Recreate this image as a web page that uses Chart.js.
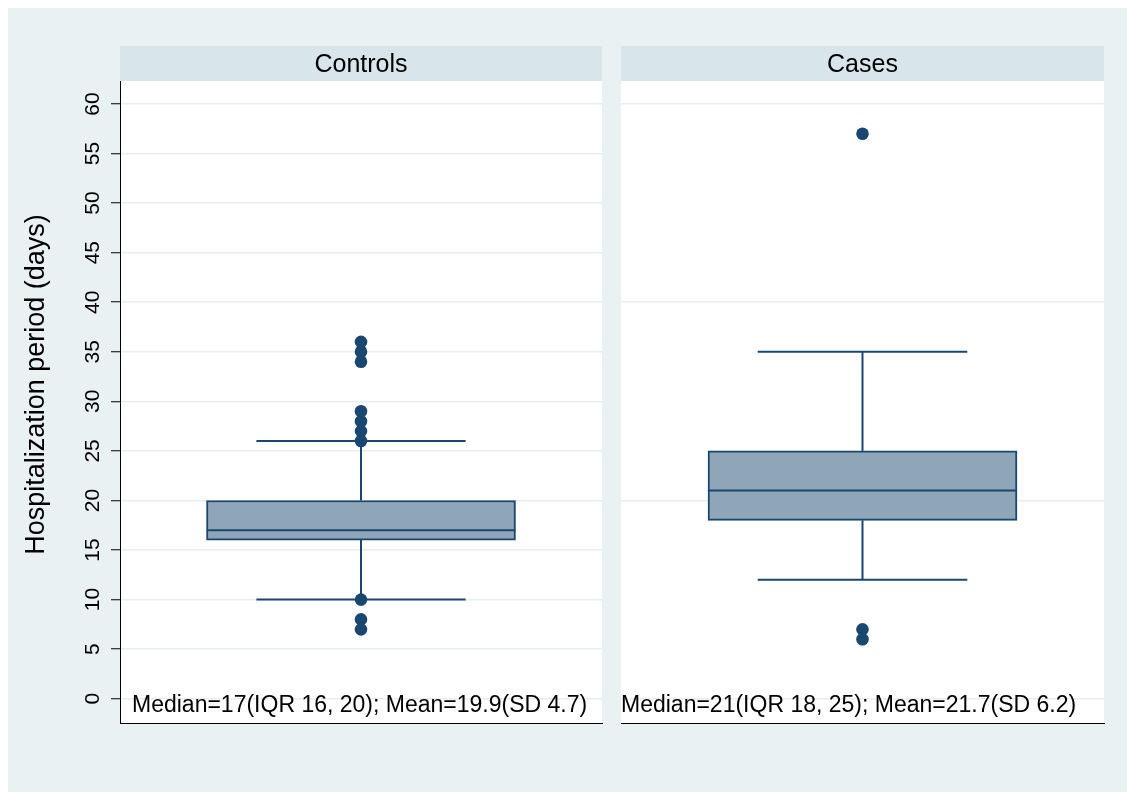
<!DOCTYPE html>
<html>
<head>
<meta charset="utf-8">
<script src="https://cdn.jsdelivr.net/npm/chart.js@4/dist/chart.umd.min.js"></script>
<style>
  html, body { margin: 0; padding: 0; background: #ffffff; }
  #frame { position: absolute; left: 8px; top: 8px; width: 1119px; height: 784px; background: #eaf1f3; }
  canvas { position: absolute; left: 0; top: 0; }
</style>
</head>
<body>
<div id="frame"></div>
<canvas id="controls" width="1131" height="796"></canvas>
<canvas id="cases" width="1131" height="796"></canvas>
<script>
// Hospitalization period (days) by group
const groups = ['Controls', 'Cases'];
const q1 = [16, 18];
const median = [17, 21];
const q3 = [20, 25];
const whiskerLow = [10, 12];
const whiskerHigh = [26, 35];
const outliersControls = [36, 35, 34, 29, 28, 27, 26, 10, 8, 7];
const outliersCases = [57, 7, 6];
const notes = [
  'Median=17(IQR 16, 20); Mean=19.9(SD 4.7)',
  'Median=21(IQR 18, 25); Mean=21.7(SD 6.2)'
];
const yTicks = [0, 5, 10, 15, 20, 25, 30, 35, 40, 45, 50, 55, 60];
const yTitle = 'Hospitalization period (days)';

// styling
const FONT = "'Liberation Sans', Arial, Helvetica, sans-serif";
const NAVY = '#1a476f';
const BOX_FILL = '#8fa5b8';
const GRID = '#e6eef1';
const STRIP = '#d8e5ea';
const BOX_HALF = 0.32;   // box half-width in panel x units (0..1)
const CAP_HALF = 0.217;  // whisker cap half-width
const Y_MIN = -2.45, Y_MAX = 62.32;

Chart.defaults.font.family = FONT;
Chart.defaults.color = '#000';

function panelDatasets(i, outliers) {
  const c = 0.5;
  const seg = { type: 'line', borderColor: NAVY, borderWidth: 2, pointRadius: 0, fill: false, order: 2 };
  return [
    { type: 'line', showLine: false, data: outliers.map(v => ({ x: c, y: v })),
      pointRadius: 6.3, pointBackgroundColor: NAVY, pointBorderWidth: 0, order: 0 },
    Object.assign({ data: [{ x: c - CAP_HALF, y: whiskerHigh[i] }, { x: c + CAP_HALF, y: whiskerHigh[i] }] }, seg),
    Object.assign({ data: [{ x: c - CAP_HALF, y: whiskerLow[i] }, { x: c + CAP_HALF, y: whiskerLow[i] }] }, seg),
    Object.assign({ data: [{ x: c, y: q3[i] }, { x: c, y: whiskerHigh[i] }] }, seg),
    Object.assign({ data: [{ x: c, y: q1[i] }, { x: c, y: whiskerLow[i] }] }, seg),
    Object.assign({ data: [{ x: c - BOX_HALF, y: median[i] }, { x: c + BOX_HALF, y: median[i] }] }, seg, { order: 1 }),
    { type: 'bar', data: [{ x: c, y: [q1[i], q3[i]] }], backgroundColor: BOX_FILL, borderColor: NAVY,
      borderWidth: 2, borderSkipped: false, barThickness: 309, order: 5 }
  ];
}

// white plot region, header strip, header label and summary note
function panelPlugin(i, noteOffset, withTitle) {
  return {
    id: 'panel' + i,
    beforeDraw(chart) {
      const a = chart.chartArea, ctx = chart.ctx;
      ctx.save();
      ctx.fillStyle = '#ffffff';
      ctx.fillRect(a.left, a.top, a.right - a.left, a.bottom - a.top);
      ctx.fillStyle = STRIP;
      ctx.fillRect(a.left, 46, a.right - a.left, a.top - 46);
      ctx.fillStyle = '#000';
      ctx.font = '25px ' + FONT;
      ctx.textAlign = 'center';
      ctx.textBaseline = 'alphabetic';
      ctx.fillText(groups[i], (a.left + a.right) / 2, 72);
      ctx.restore();
    },
    afterDraw(chart) {
      const a = chart.chartArea, ctx = chart.ctx;
      ctx.save();
      ctx.fillStyle = '#000';
      ctx.font = '23px ' + FONT;
      ctx.textAlign = 'left';
      ctx.textBaseline = 'alphabetic';
      ctx.fillText(notes[i], a.left + noteOffset, 712);
      if (withTitle) {
        ctx.translate(37, (46 + a.bottom) / 2);
        ctx.rotate(-Math.PI / 2);
        ctx.font = '27px ' + FONT;
        ctx.textAlign = 'center';
        ctx.textBaseline = 'middle';
        ctx.fillText(yTitle, 0, 0);
      }
      ctx.restore();
    }
  };
}

function xScale() {
  return {
    type: 'linear', min: 0, max: 1, offset: false,
    ticks: { display: false },
    grid: { display: false, drawTicks: false, offset: false },
    border: { display: true, color: '#000', width: 1 },
    afterFit: s => { s.height = 0; }
  };
}

function makeChart(id, i, outliers, opts) {
  return new Chart(document.getElementById(id), {
    type: 'bar',
    data: { datasets: panelDatasets(i, outliers) },
    options: {
      responsive: false,
      animation: false,
      events: [],
      layout: { padding: opts.padding },
      plugins: { legend: { display: false }, tooltip: { enabled: false } },
      scales: { x: xScale(), y: opts.y }
    },
    plugins: [panelPlugin(i, opts.noteOffset, opts.withTitle)]
  });
}

makeChart('controls', 0, outliersControls, {
  padding: { left: 0, right: 529, top: 81, bottom: 73 },
  noteOffset: 12,
  withTitle: true,
  y: {
    type: 'linear', min: Y_MIN, max: Y_MAX,
    afterBuildTicks: s => { s.ticks = yTicks.map(v => ({ value: v })); },
    afterFit: s => { s.width = 120; },
    grid: { color: GRID, lineWidth: 1.5, tickColor: '#000', tickLength: 9, tickWidth: 1, drawTicks: true },
    border: { display: true, color: '#000', width: 1 },
    ticks: { font: { size: 21 }, color: '#000', minRotation: 90, maxRotation: 90, crossAlign: 'center', padding: 6 }
  }
});

makeChart('cases', 1, outliersCases, {
  padding: { left: 621, right: 27, top: 81, bottom: 73 },
  noteOffset: 0,
  withTitle: false,
  y: {
    type: 'linear', min: Y_MIN, max: Y_MAX,
    afterBuildTicks: s => { s.ticks = yTicks.map(v => ({ value: v })); },
    afterFit: s => { s.width = 0; },
    grid: { color: c => (c.tick && c.tick.value % 20 === 0) ? GRID : 'rgba(0,0,0,0)', lineWidth: 1.5, drawTicks: false },
    border: { display: false },
    ticks: { display: false }
  }
});
</script>
</body>
</html>
